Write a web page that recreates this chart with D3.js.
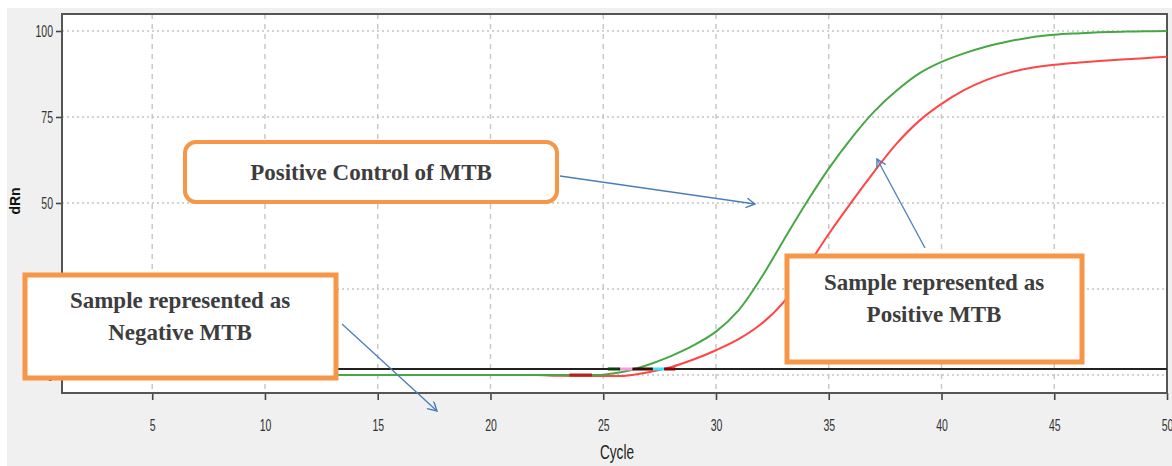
<!DOCTYPE html>
<html><head><meta charset="utf-8">
<script src="https://cdn.jsdelivr.net/npm/d3@7"></script>
<style>
html,body{margin:0;padding:0;background:#fff;}
svg{display:block;}
.tick text{font-family:"Liberation Sans","DejaVu Sans",sans-serif;font-size:14px;fill:#333;}
</style></head>
<body>
<svg id="chart" width="1172" height="466"></svg>
<script>
// ---- data ----
const cycles = d3.range(1, 51);
const positiveControl = [
  0,0,0,0,0,0,0,0,0,0, 0,0,0,0,0,0,0,0,0,0, 0,0,0,0,0.1,
  1.1,3.0,5.5,8.6,12.6, 18.8,28.2,39.2,50,60, 68.8,76.5,82.6,87.6,91,
  93.5,95.5,97,98.2,98.9, 99.3,99.6,99.8,99.9,100
];
const positiveSample = [
  0,0,0,0,0,0,0,0,0,0, 0,0,0,0,0,0,0,0,0,0, 0,0,-0.2,-0.3,-0.3,
  -0.2,0.8,2.3,4.5,7.2, 10.4,14.8,21.2,31,41, 50.2,59,67.2,73.8,78.8,
  82.8,85.8,87.9,89.3,90.2, 90.8,91.3,91.7,92.1,92.5
];
const threshold = 1.75;
const xTicks = [5,10,15,20,25,30,35,40,45,50];
const yTicks = [0,25,50,75,100];
// small Ct marker segments on the threshold [startCycle, endCycle, value, colour]
const ctMarkers = [
  [23.5,24.5,0,"#b22222"],
  [25.2,25.75,threshold,"#0b3d0b"],
  [25.75,26.3,threshold,"#ff99e6"],
  [26.3,27.2,threshold,"#3a0a00"],
  [27.2,27.7,threshold,"#33e6ff"],
  [27.7,28.2,threshold,"#8b0000"]
];
const annotations = [
  {lines:["Positive Control of MTB"], rounded:true},
  {lines:["Sample represented as","Negative MTB"], rounded:false},
  {lines:["Sample represented as","Positive MTB"], rounded:false}
];

// ---- layout ----
const svg = d3.select("#chart");
const L = 62, R = 1167, T = 14, B = 393;
const x = d3.scaleLinear().domain([1,50]).range([L,R]);
const y = d3.scaleLinear().domain([-5.23,104.94]).range([B,T]);

svg.append("rect").attr("x",7).attr("y",8).attr("width",1165).attr("height",458).attr("fill","#f0f0f0");
svg.append("rect").attr("x",L).attr("y",T).attr("width",R-L).attr("height",B-T).attr("fill","#fff");

// grid
const g = svg.append("g");
g.selectAll(".vg").data(xTicks.filter(d=>d<50)).join("line")
  .attr("x1",d=>x(d)).attr("x2",d=>x(d)).attr("y1",T).attr("y2",B)
  .attr("stroke","#c8c8c8").attr("stroke-width",1.5).attr("stroke-dasharray","5,5");
g.selectAll(".hg").data(yTicks).join("line")
  .attr("x1",L).attr("x2",R).attr("y1",d=>y(d)).attr("y2",d=>y(d))
  .attr("stroke","#c4c4c4").attr("stroke-width",1.5).attr("stroke-dasharray","2,3");

// axes
const xAxis = svg.append("g").attr("transform",`translate(0,${B})`)
  .call(d3.axisBottom(x).tickValues(xTicks).tickSize(7).tickPadding(20).tickSizeOuter(0));
const yAxis = svg.append("g").attr("transform",`translate(${L},0)`)
  .call(d3.axisLeft(y).tickValues(yTicks).tickSize(6).tickPadding(3).tickSizeOuter(0));
[xAxis,yAxis].forEach(a=>{
  a.select(".domain").remove();
  a.selectAll(".tick line").attr("stroke","#444").attr("stroke-width",1.6);
});
xAxis.selectAll(".tick text").each(function(){
  const t = d3.select(this), yy = +t.attr("y");
  t.attr("y",0).attr("transform",`translate(0,${yy}) scale(0.75,1.15)`);
});
yAxis.selectAll(".tick text").each(function(){
  const t = d3.select(this), xx = +t.attr("x");
  t.attr("x",0).attr("transform",`translate(${xx},0) scale(0.75,1.15)`);
});

// frame
svg.append("rect").attr("x",L).attr("y",T).attr("width",R-L).attr("height",B-T)
  .attr("fill","none").attr("stroke","#555").attr("stroke-width",2);

svg.append("text").attr("transform","translate(617,459) scale(0.8,1.15)").attr("text-anchor","middle")
  .attr("font-family","'Liberation Sans','DejaVu Sans',sans-serif")
  .attr("font-size",17).attr("fill","#222").text("Cycle");
svg.append("text").attr("transform","translate(20,201) rotate(-90)").attr("text-anchor","middle")
  .attr("font-family","'Liberation Sans','DejaVu Sans',sans-serif").attr("font-weight","bold")
  .attr("font-size",14).attr("fill","#111").text("dRn");

// threshold
svg.append("line").attr("x1",L).attr("x2",R).attr("y1",y(threshold)).attr("y2",y(threshold))
  .attr("stroke","#222").attr("stroke-width",2);

// curves
const line = d3.line().x((d,i)=>x(cycles[i])).y(d=>y(d)).curve(d3.curveCatmullRom.alpha(0.5));
svg.append("path").datum(positiveSample).attr("d",line).attr("fill","none")
  .attr("stroke","#ff4545").attr("stroke-width",2);
svg.append("path").datum(positiveControl).attr("d",line).attr("fill","none")
  .attr("stroke","#45a845").attr("stroke-width",2);

svg.selectAll(".ct").data(ctMarkers).join("line")
  .attr("x1",d=>x(d[0])).attr("x2",d=>x(d[1])).attr("y1",d=>y(d[2])).attr("y2",d=>y(d[2]))
  .attr("stroke",d=>d[3]).attr("stroke-width",3);

// annotations
const boxes = [
  {x:185,y:142,w:372,h:60,tx:371,ty:[180]},
  {x:25,y:275,w:311,h:103,tx:180,ty:[308,340]},
  {x:787,y:256,w:295,h:106,tx:934,ty:[290,322]}
];
const defs = svg.append("defs");
defs.append("marker").attr("id","arr").attr("markerUnits","userSpaceOnUse")
  .attr("markerWidth",12).attr("markerHeight",12).attr("refX",9).attr("refY",5).attr("orient","auto")
  .append("path").attr("d","M0,0 L9,5 L0,10").attr("fill","none").attr("stroke","#4a7ebb").attr("stroke-width",1.4);
const arrows = [[560,176,755,204],[925,248,877,159],[342,324,437,411]];
svg.selectAll(".arrow").data(arrows).join("line")
  .attr("x1",d=>d[0]).attr("y1",d=>d[1]).attr("x2",d=>d[2]).attr("y2",d=>d[3])
  .attr("stroke","#4a7ebb").attr("stroke-width",1.3).attr("marker-end","url(#arr)");

annotations.forEach((a,i)=>{
  const b = boxes[i];
  svg.append("rect").attr("x",b.x).attr("y",b.y).attr("width",b.w).attr("height",b.h)
    .attr("rx",a.rounded?11:0).attr("fill","#fff").attr("stroke","#f79646")
    .attr("stroke-width",a.rounded?4:5);
  a.lines.forEach((t,j)=>{
    svg.append("text").attr("x",b.tx).attr("y",b.ty[j]).attr("text-anchor","middle")
      .attr("font-family","'Liberation Serif','DejaVu Serif',serif").attr("font-weight","bold")
      .attr("font-size",23).attr("fill","#3d3d3d").text(t);
  });
});
</script>
</body></html>
